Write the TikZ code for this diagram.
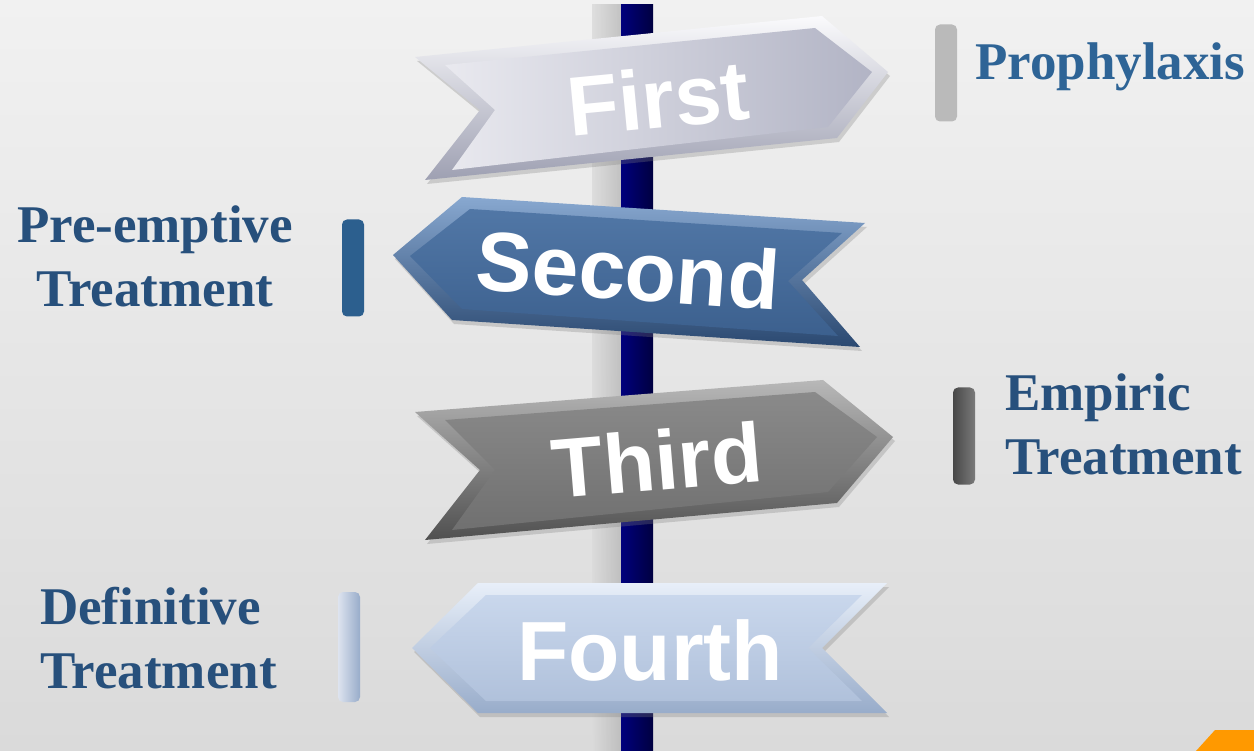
\documentclass[tikz,border=0pt]{standalone}
\usepackage{fontspec}
\setmainfont{Liberation Serif}
\newfontfamily\signfont{Liberation Sans}
\usetikzlibrary{shadows}
\definecolor{bgtop}{HTML}{F1F1F1}
\definecolor{bgbot}{HTML}{DADADA}
\definecolor{labelblue}{HTML}{27507C}
\definecolor{prophblue}{HTML}{2E6496}
\definecolor{polenavy}{HTML}{00005C}
\definecolor{cornerorange}{HTML}{FF9900}
% sign colours: outer bevel top/bottom, face top/bottom
\definecolor{firstouta}{HTML}{FAFAFC}\definecolor{firstoutb}{HTML}{9EA0B2}
\definecolor{firstina}{HTML}{E9E9EF}\definecolor{firstinb}{HTML}{B2B4C5}
\definecolor{secondouta}{HTML}{88A8D0}\definecolor{secondoutb}{HTML}{2A4870}
\definecolor{secondina}{HTML}{5177A6}\definecolor{secondinb}{HTML}{3C608E}
\definecolor{thirdouta}{HTML}{B8B8B8}\definecolor{thirdoutb}{HTML}{505050}
\definecolor{thirdina}{HTML}{8A8A8A}\definecolor{thirdinb}{HTML}{707070}
\definecolor{fourthouta}{HTML}{E8EFF9}\definecolor{fourthoutb}{HTML}{98ACCA}
\definecolor{fourthina}{HTML}{C9D7EC}\definecolor{fourthinb}{HTML}{B0C1DB}
\begin{document}
\begin{tikzpicture}[x=1pt,y=-1pt,
        signtext/.style={font=\signfont\bfseries\fontsize{84}{84}\selectfont, text=white, inner sep=0pt},
        sidelabel/.style={font=\bfseries\fontsize{53}{64}\selectfont, text=labelblue, inner sep=0pt, align=left},
        bar/.style={rectangle, rounded corners=5pt, minimum width=22pt, minimum height=97pt, inner sep=0pt},
        signshadow/.style={drop shadow={opacity=0.3, shadow xshift=2pt, shadow yshift=-4pt}}
    ]
        \useasboundingbox (0,0) rectangle (1254,751);

        % Background
        \shade[top color=bgtop, bottom color=bgbot] (0,0) rectangle (1254,751);
        \fill[cornerorange] (1196,751) -- (1215,730) -- (1254,730) -- (1254,751) -- cycle;

        % Post and its shadow
        \shade[left color=bgbot, right color=black!28, opacity=0.8] (592,5) rectangle (621,751);
        \shade[left color=polenavy!80!blue, right color=polenavy!70!black] (621,5) rectangle (653,751);

        % First: points right
        \shade[signshadow, top color=firstouta, bottom color=firstoutb] (415,57) -- (480,110) -- (425,180) -- (837,138) -- (888,72) -- (822,16) -- cycle;
        \shade[left color=firstina, right color=firstinb] (445,65) -- (495,110) -- (452,170) -- (828,127) -- (872,72) -- (815,28) -- cycle;
        \node[signtext, rotate=5.5] (first) at (658,98) {First};

        % Second: points left
        \shade[signshadow, top color=secondouta, bottom color=secondoutb] (393,255) -- (462,197) -- (865,223) -- (802,280) -- (860,347) -- (452,320) -- cycle;
        \shade[top color=secondina, bottom color=secondinb] (410,256) -- (470,209) -- (842,233) -- (788,281) -- (838,336) -- (462,309) -- cycle;
        \node[signtext, rotate=-4] (second) at (628,270) {Second};

        % Third: points right
        \shade[signshadow, top color=thirdouta, bottom color=thirdoutb] (415,412) -- (480,470) -- (425,540) -- (837,503) -- (893,437) -- (823,380) -- cycle;
        \shade[top color=thirdina, bottom color=thirdinb] (445,420) -- (495,470) -- (452,530) -- (828,492) -- (877,437) -- (815,392) -- cycle;
        \node[signtext, rotate=4.8] (third) at (657,460) {Third};

        % Fourth: points left
        \shade[signshadow, top color=fourthouta, bottom color=fourthoutb] (412,648) -- (478,583) -- (887,583) -- (822,648) -- (887,713) -- (478,713) -- cycle;
        \shade[top color=fourthina, bottom color=fourthinb] (430,648) -- (486,595) -- (862,595) -- (808,648) -- (862,701) -- (486,701) -- cycle;
        \node[signtext] (fourth) at (650,650) {Fourth};

        % Bars beside the labels
        \node[bar, fill=black!27] (prophbar) at (946,73) {};
        \node[bar, fill=prophblue!95!black] (preembar) at (353,268) {};
        \node[bar, left color=black!72, right color=black!52] (empibar) at (964,436) {};
        \node[bar, minimum height=110pt, left color=fourthouta!80!firstinb, right color=fourthoutb] (defibar) at (349,647) {};

        % Labels (base anchor = last line)
        \node[sidelabel, text=prophblue, anchor=base west] (proph) at (975,80) {Prophylaxis};
        \node[sidelabel, align=center, anchor=base] (preem) at (155,307) {Pre-emptive\\Treatment};
        \node[sidelabel, anchor=base west] (empi) at (1005,475) {Empiric\\Treatment};
        \node[sidelabel, anchor=base west] (defi) at (40,688) {Definitive\\Treatment};
    \end{tikzpicture}
\end{document}
